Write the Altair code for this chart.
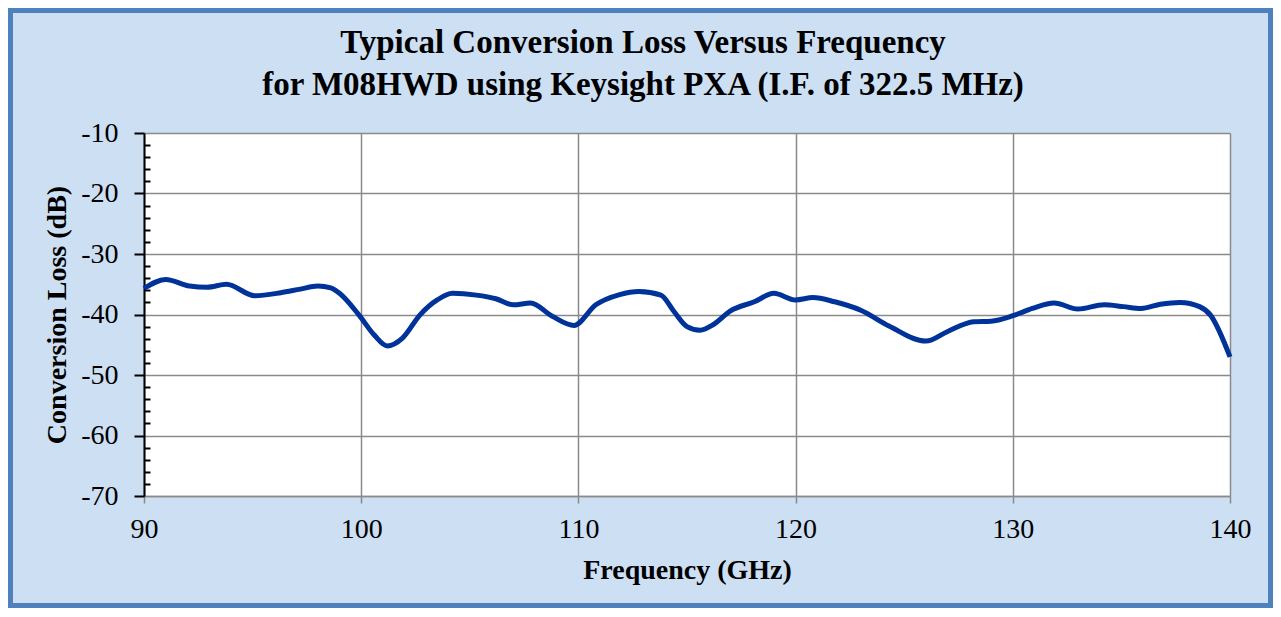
import altair as alt
import pandas as pd

# Frequency (GHz) and conversion loss (dB)
FREQ = [90.0, 91.0, 92.1, 92.9, 93.8, 95.1, 96.3, 97.2, 98.0, 98.6, 99.0, 99.9,
        100.6, 101.2, 101.9, 102.7, 103.5, 104.2, 105.3, 106.2, 107.0, 107.8,
        108.8, 109.8, 110.8, 111.9, 112.8, 113.8, 114.4, 115.0, 115.6, 116.2,
        117.0, 118.1, 119.0, 120.0, 120.8, 121.8, 123.0, 124.3, 126.0, 127.0,
        128.2, 129.0, 130.0, 130.9, 131.9, 133.0, 134.2, 135.1, 135.9, 136.8,
        137.7, 138.6, 139.1, 140.0]
LOSS = [-35.7, -34.2, -35.3, -35.5, -35.0, -36.9, -36.4, -35.8, -35.3, -35.6, -36.5, -40.1,
        -43.4, -45.2, -43.9, -40.1, -37.6, -36.5, -36.8, -37.4, -38.4, -38.1,
        -40.3, -41.8, -38.4, -36.7, -36.2, -36.8, -39.5, -42.0, -42.6, -41.7,
        -39.4, -37.9, -36.5, -37.6, -37.2, -37.9, -39.3, -41.9, -44.4, -42.8,
        -41.2, -41.1, -40.2, -39.0, -38.1, -39.1, -38.4, -38.7, -39.0, -38.3,
        -38.0, -38.7, -40.1, -47.0]

X_TICKS = [90, 100, 110, 120, 130, 140]
Y_TICKS = [-70, -60, -50, -40, -30, -20, -10]
Y_MINOR = [v for v in range(-70, -9, 2) if v % 10 != 0]

TITLE = ["Typical Conversion Loss Versus Frequency",
         "for M08HWD using Keysight PXA (I.F. of 322.5 MHz)"]

df = pd.DataFrame({"freq": FREQ, "loss": LOSS})

W, H = 1086, 363
PAD = {"left": 136, "top": 125, "right": 43, "bottom": 112}
FONT = "Liberation Serif"
GRID = "#8a8a8a"

xscale = alt.Scale(domain=[90, 140], nice=False, zero=False)
yscale = alt.Scale(domain=[-70, -10], nice=False, zero=False)

line = alt.Chart(df).mark_line(
    color="#003399", strokeWidth=5, interpolate="monotone"
).encode(
    x=alt.X("freq:Q", scale=xscale, axis=alt.Axis(
        values=X_TICKS, title="Frequency (GHz)", grid=True, gridColor=GRID, gridWidth=1.5,
        domainColor=GRID, domainWidth=1.5, tickColor=GRID, tickWidth=1.5, tickSize=7,
        labelFont=FONT, labelFontSize=28, labelColor="black", labelPadding=12,
        labelFlush=False, labelOverlap=False, labelExpr="'' + datum.value",
        titleFont=FONT, titleFontSize=28, titleFontWeight="bold", titleColor="black",
        titlePadding=13)),
    y=alt.Y("loss:Q", scale=yscale, axis=alt.Axis(
        values=Y_TICKS, title="Conversion Loss (dB)", grid=True, gridColor=GRID, gridWidth=1.5,
        domainColor="black", domainWidth=2, tickColor="black", tickWidth=2, tickSize=10,
        labelFont=FONT, labelFontSize=28, labelColor="black", labelPadding=16,
        labelFlush=False, labelOverlap=False, labelExpr="'' + datum.value",
        titleFont=FONT, titleFontSize=28, titleFontWeight="bold", titleColor="black",
        titlePadding=9)),
)

minor = alt.Chart(df).mark_point(opacity=0).encode(
    y=alt.Y("loss:Q", scale=yscale, axis=alt.Axis(
        orient="left", values=Y_MINOR, labels=False, title=None, grid=False, domain=False,
        ticks=True, tickColor="black", tickWidth=2, tickSize=6, offset=-6)),
)

border = alt.Chart(alt.Data(values=[{}])).mark_rect(
    fillOpacity=0, stroke="#4F81BD", strokeWidth=5, clip=False
).encode(
    x=alt.value(-PAD["left"] + 2.5), x2=alt.value(W + PAD["right"] - 2.5),
    y=alt.value(-PAD["top"] + 2.5), y2=alt.value(H + PAD["bottom"] - 2.5),
)

chart = alt.layer(line, minor, border).resolve_axis(y="independent").properties(
    width=W, height=H,
    autosize=alt.AutoSizeParams(type="none"),
    padding=PAD,
    background="#CCDFF3",
    title=alt.TitleParams(
        text=TITLE, font=FONT, fontSize=33, fontWeight="bold", color="black",
        lineHeight=42, anchor="middle", frame="group", dx=-44,
        baseline="top", offset=-94),
).configure_view(fill="white", stroke="transparent")

chart.save("out.html", embed_options={"renderer": "svg", "actions": False})
